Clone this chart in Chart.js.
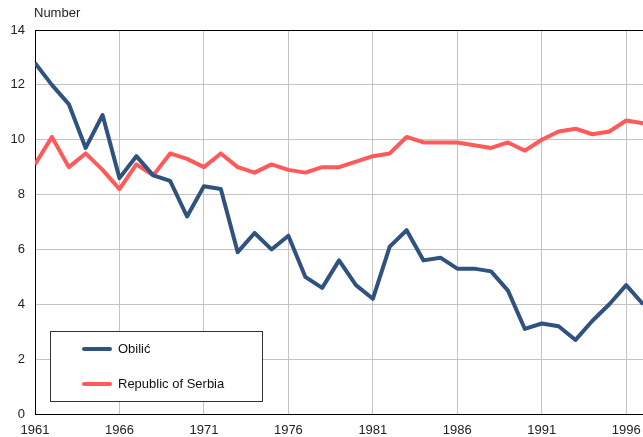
<!DOCTYPE html>
<html>
<head>
<meta charset="utf-8">
<script src="https://cdn.jsdelivr.net/npm/chart.js@4/dist/chart.umd.min.js"></script>
<style>
    html, body { margin: 0; padding: 0; overflow: hidden; background: #fff; }
    #wrap { width: 660px; height: 437px; }
</style>
</head>
<body>
<div id="wrap"><canvas id="chart" width="660" height="437"></canvas></div>
<script>
// Данные графика
const years = [1961, 1962, 1963, 1964, 1965, 1966, 1967, 1968, 1969, 1970,
    1971, 1972, 1973, 1974, 1975, 1976, 1977, 1978, 1979, 1980,
    1981, 1982, 1983, 1984, 1985, 1986, 1987, 1988, 1989, 1990,
    1991, 1992, 1993, 1994, 1995, 1996, 1997];
const obilic = [12.8, 12.0, 11.3, 9.7, 10.9, 8.6, 9.4, 8.7, 8.5, 7.2,
    8.3, 8.2, 5.9, 6.6, 6.0, 6.5, 5.0, 4.6, 5.6, 4.7,
    4.2, 6.1, 6.7, 5.6, 5.7, 5.3, 5.3, 5.2, 4.5, 3.1,
    3.3, 3.2, 2.7, 3.4, 4.0, 4.7, 4.0];
const serbia = [9.1, 10.1, 9.0, 9.5, 8.9, 8.2, 9.1, 8.7, 9.5, 9.3,
    9.0, 9.5, 9.0, 8.8, 9.1, 8.9, 8.8, 9.0, 9.0, 9.2,
    9.4, 9.5, 10.1, 9.9, 9.9, 9.9, 9.8, 9.7, 9.9, 9.6,
    10.0, 10.3, 10.4, 10.2, 10.3, 10.7, 10.6];
const seriesNames = ['Obilić', 'Republic of Serbia'];
const xTicks = [1961, 1966, 1971, 1976, 1981, 1986, 1991, 1996];
const yTicks = [0, 2, 4, 6, 8, 10, 12, 14];
const yTitle = 'Number';

const FONT = '"Liberation Sans", Arial, sans-serif';

// Подпись оси Y сверху
const yTitlePlugin = {
    id: 'yTitle',
    afterDraw(chart) {
        const ctx = chart.ctx;
        ctx.save();
        ctx.font = '13px ' + FONT;
        ctx.fillStyle = '#222';
        ctx.textBaseline = 'middle';
        ctx.fillText(yTitle, chart.chartArea.left - 1, 13);
        ctx.restore();
    }
};

// Легенда в рамке внутри области графика
const boxLegendPlugin = {
    id: 'boxLegend',
    afterDraw(chart) {
        const ctx = chart.ctx;
        const x = 50, y = 331, w = 212, h = 70;
        ctx.save();
        ctx.fillStyle = '#fff';
        ctx.fillRect(x, y, w, h);
        ctx.strokeStyle = '#333';
        ctx.lineWidth = 1;
        ctx.strokeRect(x + 0.5, y + 0.5, w, h);
        ctx.font = '13px ' + FONT;
        ctx.textBaseline = 'middle';
        chart.data.datasets.forEach((ds, i) => {
            const ly = y + 18 + i * 35;
            ctx.strokeStyle = ds.borderColor;
            ctx.lineWidth = 4;
            ctx.lineCap = 'round';
            ctx.beginPath();
            ctx.moveTo(x + 34, ly);
            ctx.lineTo(x + 60, ly);
            ctx.stroke();
            ctx.fillStyle = '#111';
            ctx.fillText(ds.label, x + 68, ly);
        });
        ctx.restore();
    }
};

const ctx = document.getElementById('chart').getContext('2d');
new Chart(ctx, {
    type: 'line',
    data: {
        datasets: [{
            label: seriesNames[0],
            data: years.map((yr, i) => ({ x: yr, y: obilic[i] })),
            borderColor: '#30527f',
            borderWidth: 4,
            pointRadius: 0,
            tension: 0,
            borderJoinStyle: 'round'
        }, {
            label: seriesNames[1],
            data: years.map((yr, i) => ({ x: yr, y: serbia[i] })),
            borderColor: '#ff5a5a',
            borderWidth: 4,
            pointRadius: 0,
            tension: 0,
            borderJoinStyle: 'round'
        }]
    },
    options: {
        responsive: false,
        animation: false,
        layout: { padding: { top: 30, left: 0, right: 0, bottom: 0 } },
        plugins: {
            legend: { display: false },
            tooltip: { enabled: false }
        },
        scales: {
            x: {
                type: 'linear',
                min: 1961,
                max: 1998,
                afterBuildTicks: scale => {
                    scale.ticks = xTicks.map(v => ({ value: v }));
                },
                afterFit: scale => { scale.height = 23; },
                ticks: {
                    font: { size: 13, family: FONT },
                    color: '#222',
                    padding: 9,
                    maxRotation: 0,
                    callback: v => String(v)
                },
                grid: {
                    drawTicks: false,
                    color: c => c.tick && c.tick.value === 1961 ? '#000' : '#c4c4c4',
                    lineWidth: 1
                },
                border: { color: '#000', width: 1 }
            },
            y: {
                min: 0,
                max: 14,
                afterBuildTicks: scale => {
                    scale.ticks = yTicks.map(v => ({ value: v }));
                },
                afterFit: scale => { scale.width = 35; },
                ticks: {
                    font: { size: 13, family: FONT },
                    color: '#222',
                    padding: 10
                },
                grid: {
                    drawTicks: false,
                    color: c => c.tick && (c.tick.value === 0 || c.tick.value === 14) ? '#000' : '#c4c4c4',
                    lineWidth: 1
                },
                border: { color: '#000', width: 1 }
            }
        }
    },
    plugins: [yTitlePlugin, boxLegendPlugin]
});
</script>
</body>
</html>
